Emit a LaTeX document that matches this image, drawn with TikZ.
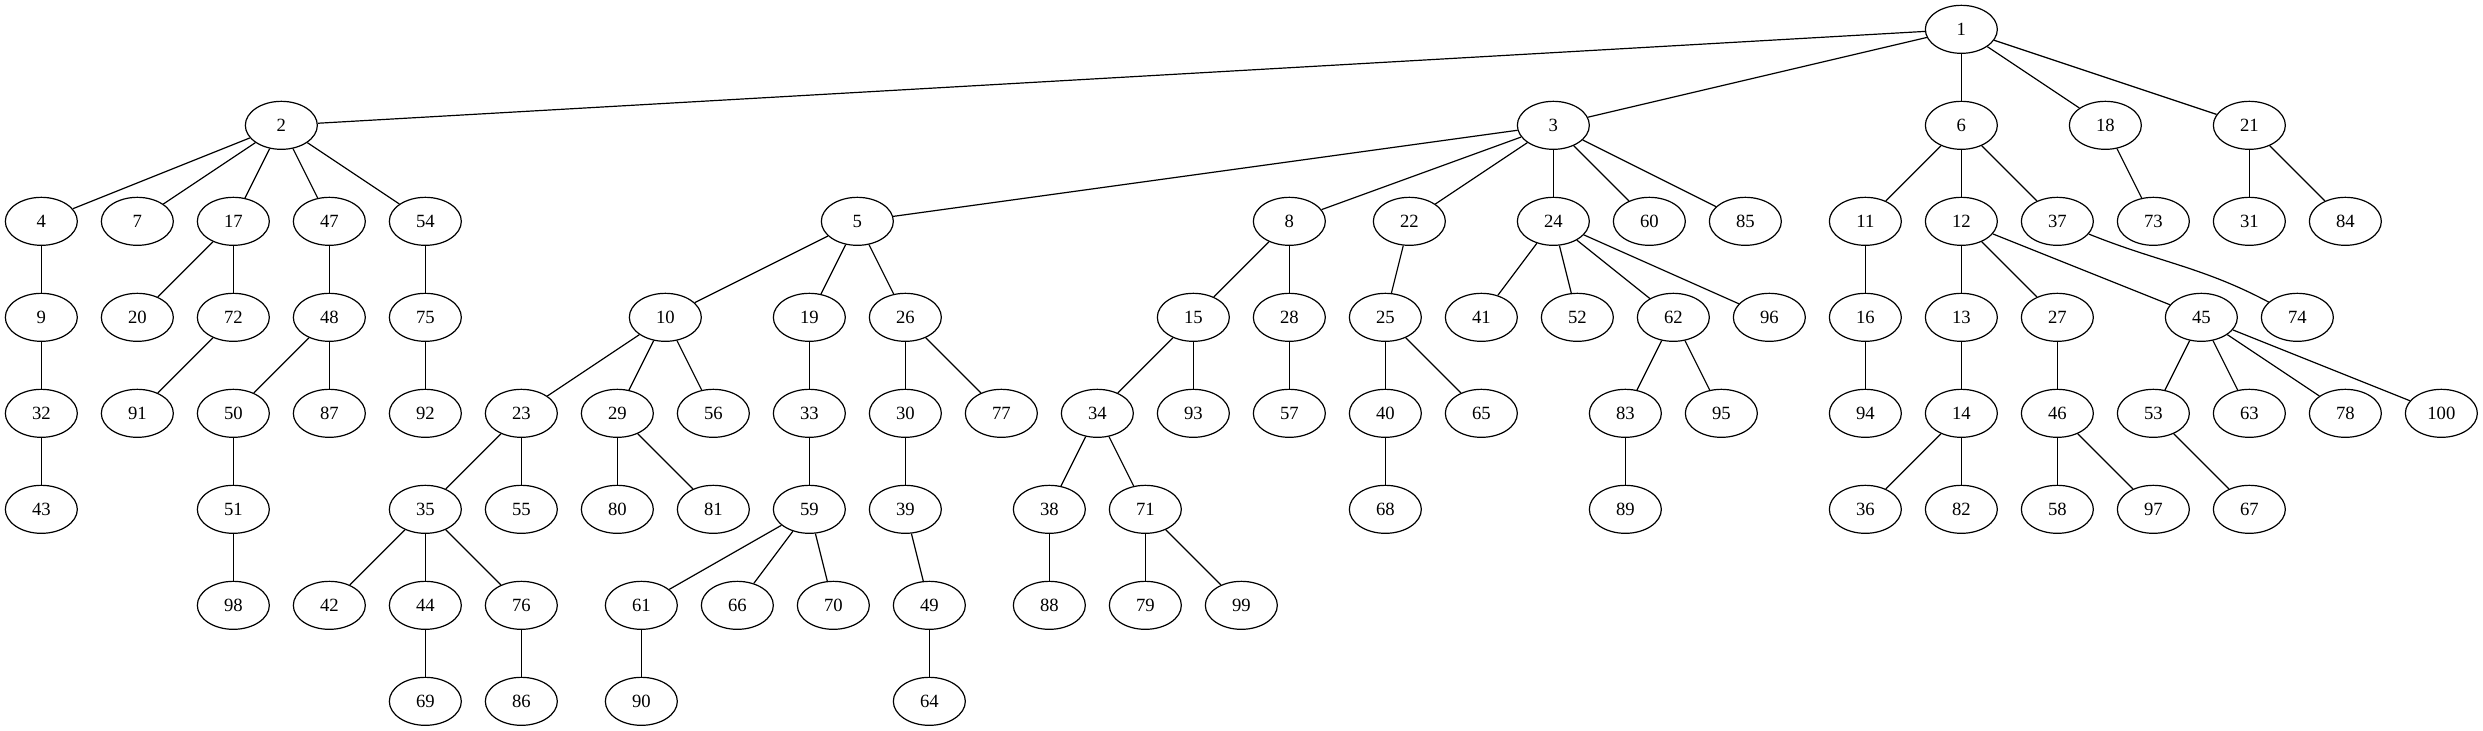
\documentclass[tikz,border=0pt]{standalone}
\usepackage{fontspec}
\setmainfont{Liberation Serif}
\usetikzlibrary{shapes.geometric}
\tikzset{
  gv/.style={draw=black, line width=0.9pt, ellipse, minimum width=54pt, minimum height=36pt, inner sep=0pt, font=\fontsize{14pt}{16pt}\selectfont},
  gvedge/.style={draw=black, line width=0.9pt}
}
\newcommand\gvnode[3]{\node[gv] (n#1) at ({31+72*#2},{-22-72*#3}) {#1};}
\begin{document}
\begin{tikzpicture}[x=1pt,y=1pt]
\useasboundingbox (0,0) rectangle (1862.25,-548.25);
% row 0
\gvnode{1}{20}{0}
% row 1
\gvnode{2}{2.5}{1}\gvnode{3}{15.75}{1}\gvnode{6}{20}{1}\gvnode{18}{21.5}{1}\gvnode{21}{23}{1}
% row 2
\gvnode{4}{0}{2}\gvnode{7}{1}{2}\gvnode{17}{2}{2}\gvnode{47}{3}{2}\gvnode{54}{4}{2}
\gvnode{5}{8.5}{2}\gvnode{8}{13}{2}\gvnode{22}{14.25}{2}\gvnode{24}{15.75}{2}\gvnode{60}{16.75}{2}\gvnode{85}{17.75}{2}
\gvnode{11}{19}{2}\gvnode{12}{20}{2}\gvnode{37}{21}{2}\gvnode{73}{22}{2}\gvnode{31}{23}{2}\gvnode{84}{24}{2}
% row 3
\gvnode{9}{0}{3}\gvnode{20}{1}{3}\gvnode{72}{2}{3}\gvnode{48}{3}{3}\gvnode{75}{4}{3}
\gvnode{10}{6.5}{3}\gvnode{19}{8}{3}\gvnode{26}{9}{3}\gvnode{15}{12}{3}\gvnode{28}{13}{3}\gvnode{25}{14}{3}
\gvnode{41}{15}{3}\gvnode{52}{16}{3}\gvnode{62}{17}{3}\gvnode{96}{18}{3}\gvnode{16}{19}{3}\gvnode{13}{20}{3}
\gvnode{27}{21}{3}\gvnode{45}{22.5}{3}\gvnode{74}{23.5}{3}
% row 4
\gvnode{32}{0}{4}\gvnode{91}{1}{4}\gvnode{50}{2}{4}\gvnode{87}{3}{4}\gvnode{92}{4}{4}\gvnode{23}{5}{4}
\gvnode{29}{6}{4}\gvnode{56}{7}{4}\gvnode{33}{8}{4}\gvnode{30}{9}{4}\gvnode{77}{10}{4}\gvnode{34}{11}{4}
\gvnode{93}{12}{4}\gvnode{57}{13}{4}\gvnode{40}{14}{4}\gvnode{65}{15}{4}\gvnode{83}{16.5}{4}\gvnode{95}{17.5}{4}
\gvnode{94}{19}{4}\gvnode{14}{20}{4}\gvnode{46}{21}{4}\gvnode{53}{22}{4}\gvnode{63}{23}{4}\gvnode{78}{24}{4}\gvnode{100}{25}{4}
% row 5
\gvnode{43}{0}{5}\gvnode{51}{2}{5}\gvnode{35}{4}{5}\gvnode{55}{5}{5}\gvnode{80}{6}{5}\gvnode{81}{7}{5}
\gvnode{59}{8}{5}\gvnode{39}{9}{5}\gvnode{38}{10.5}{5}\gvnode{71}{11.5}{5}\gvnode{68}{14}{5}\gvnode{89}{16.5}{5}
\gvnode{36}{19}{5}\gvnode{82}{20}{5}\gvnode{58}{21}{5}\gvnode{97}{22}{5}\gvnode{67}{23}{5}
% row 6
\gvnode{98}{2}{6}\gvnode{42}{3}{6}\gvnode{44}{4}{6}\gvnode{76}{5}{6}\gvnode{61}{6.25}{6}\gvnode{66}{7.25}{6}
\gvnode{70}{8.25}{6}\gvnode{49}{9.25}{6}\gvnode{88}{10.5}{6}\gvnode{79}{11.5}{6}\gvnode{99}{12.5}{6}
% row 7
\gvnode{69}{4}{7}\gvnode{86}{5}{7}\gvnode{90}{6.25}{7}\gvnode{64}{9.25}{7}
% edges
\foreach \a/\b in {1/2,1/3,1/6,1/18,1/21,
  2/4,2/7,2/17,2/47,2/54,
  3/5,3/8,3/22,3/24,3/60,3/85,
  6/11,6/12,6/37,18/73,21/31,21/84,
  4/9,9/32,32/43,17/20,17/72,72/91,47/48,48/50,48/87,50/51,51/98,54/75,75/92,
  5/10,5/19,5/26,10/23,10/29,10/56,23/35,23/55,35/42,35/44,35/76,44/69,76/86,
  29/80,29/81,19/33,33/59,59/61,59/66,59/70,61/90,26/30,26/77,30/39,39/49,49/64,
  8/15,8/28,15/34,15/93,34/38,34/71,38/88,71/79,71/99,28/57,
  22/25,25/40,25/65,40/68,24/41,24/52,24/62,24/96,62/83,62/95,83/89,
  11/16,16/94,12/13,12/27,12/45,13/14,14/36,14/82,27/46,46/58,46/97,
  45/53,45/63,45/78,45/100,53/67}
  \draw[gvedge] (n\a) -- (n\b);
\draw[gvedge] (n37) to[out=-22,in=152] (n74);
\end{tikzpicture}
\end{document}
